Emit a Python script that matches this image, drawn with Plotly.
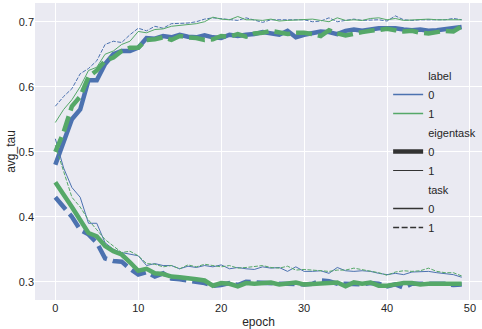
import plotly.graph_objects as go

epochs = list(range(50))

# upper cluster
blue_thick_solid = [0.48, 0.515, 0.55, 0.565, 0.61, 0.61, 0.635, 0.65, 0.655, 0.655,
                    0.66, 0.675, 0.674, 0.678, 0.676, 0.68, 0.677, 0.676, 0.679, 0.676,
                    0.675, 0.68, 0.678, 0.68, 0.681, 0.684, 0.682, 0.68, 0.686, 0.676,
                    0.68, 0.683, 0.685, 0.684, 0.681, 0.686, 0.688, 0.686, 0.688, 0.69,
                    0.69, 0.69, 0.688, 0.687, 0.688, 0.686, 0.687, 0.689, 0.69, 0.692]
green_thick_dash = [0.50, 0.53, 0.57, 0.585, 0.615, 0.625, 0.64, 0.645, 0.655, 0.66,
                    0.66, 0.672, 0.673, 0.676, 0.672, 0.678, 0.676, 0.675, 0.672, 0.673,
                    0.678, 0.677, 0.681, 0.677, 0.682, 0.683, 0.686, 0.683, 0.681, 0.683,
                    0.683, 0.681, 0.678, 0.687, 0.682, 0.679, 0.682, 0.684, 0.686, 0.687,
                    0.689, 0.687, 0.685, 0.686, 0.683, 0.682, 0.684, 0.686, 0.685, 0.693]
blue_thin_dash = [0.57, 0.585, 0.597, 0.62, 0.628, 0.64, 0.665, 0.67, 0.668, 0.68,
                  0.69, 0.686, 0.693, 0.69, 0.697, 0.697, 0.698, 0.7, 0.704, 0.706,
                  0.705, 0.703, 0.702, 0.706, 0.702, 0.699, 0.703, 0.703, 0.704, 0.703,
                  0.703, 0.7, 0.701, 0.706, 0.7, 0.702, 0.704, 0.702, 0.703, 0.703,
                  0.701, 0.709, 0.703, 0.702, 0.703, 0.703, 0.704, 0.703, 0.705, 0.703]
green_thin_solid = [0.545, 0.565, 0.58, 0.60, 0.625, 0.63, 0.65, 0.655, 0.665, 0.67,
                    0.685, 0.683, 0.688, 0.689, 0.693, 0.694, 0.695, 0.697, 0.7, 0.707,
                    0.704, 0.703, 0.708, 0.703, 0.703, 0.702, 0.704, 0.701, 0.702, 0.703,
                    0.703, 0.704, 0.702, 0.7, 0.706, 0.702, 0.703, 0.702, 0.705, 0.706,
                    0.703, 0.705, 0.702, 0.703, 0.704, 0.704, 0.703, 0.703, 0.703, 0.703]

# lower cluster
green_thick_solid = [0.453, 0.435, 0.415, 0.395, 0.375, 0.37, 0.355, 0.347, 0.342, 0.33,
                     0.317, 0.32, 0.313, 0.312, 0.308, 0.307, 0.306, 0.304, 0.302, 0.294,
                     0.298, 0.297, 0.293, 0.298, 0.297, 0.298, 0.299, 0.296, 0.297, 0.299,
                     0.296, 0.297, 0.298, 0.299, 0.299, 0.293, 0.299, 0.297, 0.299, 0.294,
                     0.294, 0.296, 0.298, 0.298, 0.296, 0.297, 0.297, 0.297, 0.298, 0.297]
blue_thick_dash = [0.43, 0.415, 0.4, 0.38, 0.373, 0.36, 0.336, 0.332, 0.331, 0.32,
                   0.311, 0.315, 0.308, 0.313, 0.305, 0.304, 0.302, 0.299, 0.298, 0.294,
                   0.295, 0.298, 0.295, 0.3, 0.299, 0.298, 0.298, 0.297, 0.297, 0.296,
                   0.296, 0.297, 0.302, 0.301, 0.297, 0.297, 0.297, 0.296, 0.298, 0.297,
                   0.293, 0.296, 0.291, 0.297, 0.297, 0.297, 0.296, 0.297, 0.295, 0.296]
blue_thin_solid = [0.52, 0.475, 0.445, 0.43, 0.39, 0.39, 0.36, 0.35, 0.345, 0.343,
                   0.34, 0.325, 0.328, 0.325, 0.325, 0.32, 0.324, 0.322, 0.325, 0.323,
                   0.326, 0.32, 0.322, 0.32, 0.319, 0.323, 0.321, 0.322, 0.316, 0.323,
                   0.316, 0.316, 0.317, 0.313, 0.322, 0.317, 0.316, 0.317, 0.316, 0.313,
                   0.311, 0.313, 0.311, 0.315, 0.315, 0.316, 0.314, 0.313, 0.311, 0.307]
green_thin_dash = [0.51, 0.47, 0.43, 0.415, 0.395, 0.38, 0.365, 0.355, 0.345, 0.347,
                   0.34, 0.328, 0.327, 0.323, 0.325, 0.32, 0.326, 0.323, 0.327, 0.325,
                   0.323, 0.325, 0.321, 0.322, 0.323, 0.325, 0.322, 0.321, 0.324, 0.318,
                   0.319, 0.318, 0.316, 0.316, 0.318, 0.318, 0.321, 0.319, 0.317, 0.314,
                   0.31, 0.315, 0.317, 0.316, 0.317, 0.321, 0.316, 0.314, 0.314, 0.309]

blue = "#4C72B0"
green = "#55A868"
dark = "#333333"
thick = 4.5
thin = 1
thick_dash = "16px,6px"
thin_dash = "4px,1.5px"

series = [
    (blue_thick_solid, blue, thick, "solid"),
    (blue_thick_dash, blue, thick, thick_dash),
    (blue_thin_dash, blue, thin, thin_dash),
    (blue_thin_solid, blue, thin, "solid"),
    (green_thick_dash, green, thick, thick_dash),
    (green_thick_solid, green, thick, "solid"),
    (green_thin_solid, green, thin, "solid"),
    (green_thin_dash, green, thin, thin_dash),
]

fig = go.Figure()

for values, color, width, dash in series:
    fig.add_trace(go.Scatter(
        x=epochs, y=values, mode="lines",
        line=dict(color=color, width=width, dash=dash),
        showlegend=False, hoverinfo="skip"
    ))

# legend entries, seaborn style (headers as invisible handles)
legend_entries = [
    ("label", "rgba(0,0,0,0)", 0, "solid"),
    ("0", blue, 1.5, "solid"),
    ("1", green, 1.5, "solid"),
    ("eigentask", "rgba(0,0,0,0)", 0, "solid"),
    ("0", dark, 4.5, "solid"),
    ("1", dark, 1, "solid"),
    ("task", "rgba(0,0,0,0)", 0, "solid"),
    ("0", dark, 1.5, "solid"),
    ("1", dark, 1.5, "6px,2.5px"),
]
for name, color, width, dash in legend_entries:
    fig.add_trace(go.Scatter(
        x=[None], y=[None], mode="lines", name=name,
        line=dict(color=color, width=width, dash=dash)
    ))

fig.update_layout(
    width=482,
    height=329,
    margin=dict(l=35, r=0, t=3, b=29),
    paper_bgcolor="white",
    plot_bgcolor="#EAEAF2",
    font=dict(family="Liberation Sans, Arial, sans-serif", size=11, color="#262626"),
    legend=dict(
        x=0.79, y=0.50, xanchor="left", yanchor="middle",
        bgcolor="rgba(0,0,0,0)", font=dict(size=11, color="#262626"),
        itemwidth=30, tracegroupgap=0
    ),
    xaxis=dict(
        range=[-2.45, 51.45], tickvals=[0, 10, 20, 30, 40, 50],
        showgrid=True, gridcolor="white", gridwidth=1, zeroline=False,
        ticks="", showline=False, automargin=False,
        title=dict(text="epoch", standoff=4, font=dict(size=12))
    ),
    yaxis=dict(
        range=[0.272, 0.7288], tickvals=[0.3, 0.4, 0.5, 0.6, 0.7],
        ticktext=["0.3", "0.4", "0.5", "0.6", "0.7"],
        showgrid=True, gridcolor="white", gridwidth=1, zeroline=False,
        ticks="", showline=False, automargin=False,
        title=dict(text="avg_tau", standoff=0, font=dict(size=12))
    )
)

# drop the browser's default 8px page margin so the figure sits at the corner
fig.write_html(
    "out.html",
    config={"displayModeBar": False},
    post_script="document.body.style.margin = '0';"
)
